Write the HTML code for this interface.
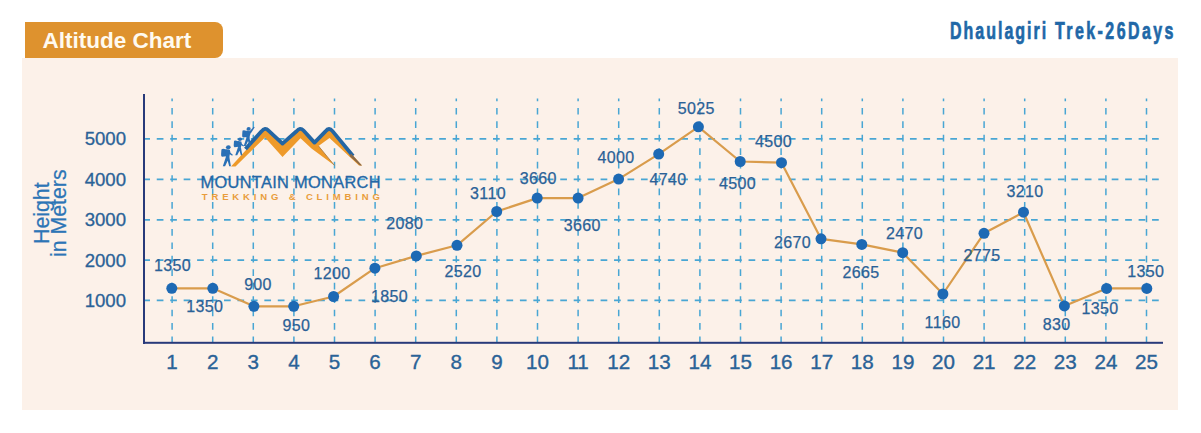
<!DOCTYPE html>
<html><head><meta charset="utf-8"><style>
html,body{margin:0;padding:0;background:#fff;}
body{width:1201px;height:433px;position:relative;overflow:hidden;font-family:"Liberation Sans",sans-serif;}
.panel{position:absolute;left:22px;top:58px;width:1156px;height:352px;background:#fcf1e9;}
.tab{position:absolute;left:25px;top:22px;width:198px;height:36px;background:#de922e;border-radius:0 8px 8px 0;}
.tab span{position:absolute;left:17.5px;top:8px;color:#fffaf0;font-weight:bold;font-size:22.5px;line-height:22px;white-space:nowrap;}
.title{position:absolute;left:950px;top:16px;transform:scaleX(0.68);letter-spacing:3.55px;-webkit-text-stroke:0.7px #2067a7;color:#2067a7;font-weight:bold;font-size:23.5px;line-height:30px;white-space:nowrap;transform-origin:0 0;}
svg{position:absolute;left:0;top:0;}
.dl{font-size:16px;letter-spacing:0.35px;fill:#2a6197;stroke:#2a6197;stroke-width:0.25px;font-family:"Liberation Sans",sans-serif;}
.xl{font-size:20.6px;fill:#2a6297;stroke:#2a6297;stroke-width:0.35px;font-family:"Liberation Sans",sans-serif;}
.yl{font-size:18.6px;fill:#2a6297;stroke:#2a6297;stroke-width:0.3px;font-family:"Liberation Sans",sans-serif;}
.yt{font-size:21.3px;fill:#2c75b6;stroke:#2c75b6;stroke-width:0.25px;font-family:"Liberation Sans",sans-serif;}
.mm{font-size:16.4px;letter-spacing:0.3px;fill:#2467a6;stroke:#2467a6;stroke-width:0.3px;font-family:"Liberation Sans",sans-serif;}
.tc{font-size:9.5px;fill:#e99d3c;font-weight:bold;letter-spacing:3.85px;font-family:"Liberation Sans",sans-serif;}
</style></head><body>
<div class="panel"></div>
<div class="tab"><span>Altitude Chart</span></div>
<div class="title" id="title"><span style="letter-spacing:2.95px">Dhaulagiri</span> Trek-26Days</div>
<svg width="1201" height="433" viewBox="0 0 1201 433">
<line x1="145" y1="300.4" x2="1160" y2="300.4" stroke="#48a6d4" stroke-width="1.7" stroke-dasharray="6.7 6.75" stroke-dashoffset="1.7"/>
<line x1="145" y1="260.1" x2="1160" y2="260.1" stroke="#48a6d4" stroke-width="1.7" stroke-dasharray="6.7 6.75" stroke-dashoffset="1.7"/>
<line x1="145" y1="219.8" x2="1160" y2="219.8" stroke="#48a6d4" stroke-width="1.7" stroke-dasharray="6.7 6.75" stroke-dashoffset="1.7"/>
<line x1="145" y1="179.4" x2="1160" y2="179.4" stroke="#48a6d4" stroke-width="1.7" stroke-dasharray="6.7 6.75" stroke-dashoffset="1.7"/>
<line x1="145" y1="138.9" x2="1160" y2="138.9" stroke="#48a6d4" stroke-width="1.7" stroke-dasharray="6.7 6.75" stroke-dashoffset="1.7"/>
<line x1="172.1" y1="98.5" x2="172.1" y2="342" stroke="#48a6d4" stroke-width="1.5" stroke-dasharray="6.7 6.75" stroke-dashoffset="4.05"/>
<line x1="212.7" y1="98.5" x2="212.7" y2="342" stroke="#48a6d4" stroke-width="1.5" stroke-dasharray="6.7 6.75" stroke-dashoffset="4.05"/>
<line x1="253.3" y1="98.5" x2="253.3" y2="342" stroke="#48a6d4" stroke-width="1.5" stroke-dasharray="6.7 6.75" stroke-dashoffset="4.05"/>
<line x1="293.9" y1="98.5" x2="293.9" y2="342" stroke="#48a6d4" stroke-width="1.5" stroke-dasharray="6.7 6.75" stroke-dashoffset="4.05"/>
<line x1="334.5" y1="98.5" x2="334.5" y2="342" stroke="#48a6d4" stroke-width="1.5" stroke-dasharray="6.7 6.75" stroke-dashoffset="4.05"/>
<line x1="375.1" y1="98.5" x2="375.1" y2="342" stroke="#48a6d4" stroke-width="1.5" stroke-dasharray="6.7 6.75" stroke-dashoffset="4.05"/>
<line x1="415.7" y1="98.5" x2="415.7" y2="342" stroke="#48a6d4" stroke-width="1.5" stroke-dasharray="6.7 6.75" stroke-dashoffset="4.05"/>
<line x1="456.3" y1="98.5" x2="456.3" y2="342" stroke="#48a6d4" stroke-width="1.5" stroke-dasharray="6.7 6.75" stroke-dashoffset="4.05"/>
<line x1="496.9" y1="98.5" x2="496.9" y2="342" stroke="#48a6d4" stroke-width="1.5" stroke-dasharray="6.7 6.75" stroke-dashoffset="4.05"/>
<line x1="537.5" y1="98.5" x2="537.5" y2="342" stroke="#48a6d4" stroke-width="1.5" stroke-dasharray="6.7 6.75" stroke-dashoffset="4.05"/>
<line x1="578.1" y1="98.5" x2="578.1" y2="342" stroke="#48a6d4" stroke-width="1.5" stroke-dasharray="6.7 6.75" stroke-dashoffset="4.05"/>
<line x1="618.7" y1="98.5" x2="618.7" y2="342" stroke="#48a6d4" stroke-width="1.5" stroke-dasharray="6.7 6.75" stroke-dashoffset="4.05"/>
<line x1="659.3" y1="98.5" x2="659.3" y2="342" stroke="#48a6d4" stroke-width="1.5" stroke-dasharray="6.7 6.75" stroke-dashoffset="4.05"/>
<line x1="699.9" y1="98.5" x2="699.9" y2="342" stroke="#48a6d4" stroke-width="1.5" stroke-dasharray="6.7 6.75" stroke-dashoffset="4.05"/>
<line x1="740.5" y1="98.5" x2="740.5" y2="342" stroke="#48a6d4" stroke-width="1.5" stroke-dasharray="6.7 6.75" stroke-dashoffset="4.05"/>
<line x1="781.1" y1="98.5" x2="781.1" y2="342" stroke="#48a6d4" stroke-width="1.5" stroke-dasharray="6.7 6.75" stroke-dashoffset="4.05"/>
<line x1="821.7" y1="98.5" x2="821.7" y2="342" stroke="#48a6d4" stroke-width="1.5" stroke-dasharray="6.7 6.75" stroke-dashoffset="4.05"/>
<line x1="862.3" y1="98.5" x2="862.3" y2="342" stroke="#48a6d4" stroke-width="1.5" stroke-dasharray="6.7 6.75" stroke-dashoffset="4.05"/>
<line x1="902.9" y1="98.5" x2="902.9" y2="342" stroke="#48a6d4" stroke-width="1.5" stroke-dasharray="6.7 6.75" stroke-dashoffset="4.05"/>
<line x1="943.5" y1="98.5" x2="943.5" y2="342" stroke="#48a6d4" stroke-width="1.5" stroke-dasharray="6.7 6.75" stroke-dashoffset="4.05"/>
<line x1="984.1" y1="98.5" x2="984.1" y2="342" stroke="#48a6d4" stroke-width="1.5" stroke-dasharray="6.7 6.75" stroke-dashoffset="4.05"/>
<line x1="1024.7" y1="98.5" x2="1024.7" y2="342" stroke="#48a6d4" stroke-width="1.5" stroke-dasharray="6.7 6.75" stroke-dashoffset="4.05"/>
<line x1="1065.3" y1="98.5" x2="1065.3" y2="342" stroke="#48a6d4" stroke-width="1.5" stroke-dasharray="6.7 6.75" stroke-dashoffset="4.05"/>
<line x1="1105.9" y1="98.5" x2="1105.9" y2="342" stroke="#48a6d4" stroke-width="1.5" stroke-dasharray="6.7 6.75" stroke-dashoffset="4.05"/>
<line x1="1146.5" y1="98.5" x2="1146.5" y2="342" stroke="#48a6d4" stroke-width="1.5" stroke-dasharray="6.7 6.75" stroke-dashoffset="4.05"/>
<rect x="143" y="94" width="2" height="250" fill="#283a7a"/>
<rect x="143" y="341.8" width="1020" height="2" fill="#283a7a"/>

<g id="logo">
  <path d="M231,166.5 L265,129 L282.5,143 L300,129 L314.5,142 L329,129 L362,165.5 L359,165.5 L329.5,138 L318.5,146 L334.5,165.5 L311.5,148.5 L300.5,138.3 L282.5,157 L265,137.5 L235.5,166.5 Z" fill="#ee9a2a"/>
  <path d="M318.5,146 L334.5,165.5" stroke="#a97a45" stroke-width="0.9" fill="none"/>
  <path d="M245.5,149 L261.5,131.3 Q265,126.8 268.5,130.6 L282.5,143.6 L296.5,131.3 Q300,126.8 303.5,130.5 L314.5,142.6 L325.5,131.3 Q329,126.8 332.5,131.1 L353,156" fill="none" stroke="#2466a4" stroke-width="3.8" stroke-linejoin="round"/>
  <path d="M351,153.5 L362,165.5 L360,165.5 L349.5,156 Z" fill="#8a6a4a"/>
  <g fill="#2a70b6">
    <g transform="translate(228.3,147.3) skewX(-4) scale(1.12,1)">
      <circle cx="0" cy="0" r="2.1"/>
      <path d="M-6,3 Q-6.5,1.5 -4.5,1.5 L-1.5,2.2 L-1,9 L-5,9.5 Q-6,9 -6,7 Z"/>
      <path d="M-2,2 L1.5,2.5 L2.3,5.5 L4.5,7.5 L4,8.5 L1.8,7 L1.5,10 L-1.5,10 Z"/>
      <path d="M-1.5,9.5 L1.5,9.5 L3.5,19 L2,19 L0.3,13.5 L-1.7,19 L-3.7,19 Z"/>
    </g>
    <g transform="translate(240,139.3) skewX(-4) scale(0.98,0.84)">
      <circle cx="0" cy="0" r="2.1"/>
      <path d="M-6,3 Q-6.5,1.5 -4.5,1.5 L-1.5,2.2 L-1,9 L-5,9.5 Q-6,9 -6,7 Z"/>
      <path d="M-2,2 L1.5,2.5 L2.3,5.5 L4.5,7.5 L4,8.5 L1.8,7 L1.5,10 L-1.5,10 Z"/>
      <path d="M-1.5,9.5 L1.5,9.5 L3.5,19 L2,19 L0.3,13.5 L-1.7,19 L-3.7,19 Z"/>
    </g>
    <g transform="translate(248.6,128.9) skewX(-4) scale(1.0,0.9)">
      <circle cx="0" cy="0" r="2.1"/>
      <path d="M-6,3 Q-6.5,1.5 -4.5,1.5 L-1.5,2.2 L-1,9 L-5,9.5 Q-6,9 -6,7 Z"/>
      <path d="M-2,2 L1.5,2.5 L2.3,5.5 L1.8,7 L1.5,10 L-1.5,10 Z"/>
      <path d="M0.5,3.5 L5,-2.5 L6,-1.8 L2.5,5 Z"/>
      <path d="M-1.5,9.5 L1.5,9.5 L3.5,19 L2,19 L0.3,13.5 L-1.7,19 L-3.7,19 Z"/>
    </g>
  </g>
  <text x="200.6" y="187.6" class="mm">MOUNTAIN MONARCH</text>
  <text x="201.8" y="199.8" class="tc">TREKKING &amp; CLIMBING</text>
</g>

<polyline points="171.8,288.3 212.8,288.3 253.9,306.3 293.7,306.3 333.6,296.5 374.9,268.2 416.3,255.9 457.0,245.3 496.7,211.5 537.2,198.1 578.1,198.1 618.6,179.1 658.7,154.1 698.4,126.8 740.2,161.5 781.5,162.7 821.0,238.8 861.8,244.4 902.7,252.7 942.9,294.0 984.0,233.3 1023.5,212.2 1064.4,305.9 1106.6,288.4 1146.8,288.4" fill="none" stroke="#d99c4c" stroke-width="2.2" stroke-linejoin="round"/>
<circle cx="171.8" cy="288.3" r="5.5" fill="#1d69b4"/>
<circle cx="212.8" cy="288.3" r="5.5" fill="#1d69b4"/>
<circle cx="253.9" cy="306.3" r="5.5" fill="#1d69b4"/>
<circle cx="293.7" cy="306.3" r="5.5" fill="#1d69b4"/>
<circle cx="333.6" cy="296.5" r="5.5" fill="#1d69b4"/>
<circle cx="374.9" cy="268.2" r="5.5" fill="#1d69b4"/>
<circle cx="416.3" cy="255.9" r="5.5" fill="#1d69b4"/>
<circle cx="457.0" cy="245.3" r="5.5" fill="#1d69b4"/>
<circle cx="496.7" cy="211.5" r="5.5" fill="#1d69b4"/>
<circle cx="537.2" cy="198.1" r="5.5" fill="#1d69b4"/>
<circle cx="578.1" cy="198.1" r="5.5" fill="#1d69b4"/>
<circle cx="618.6" cy="179.1" r="5.5" fill="#1d69b4"/>
<circle cx="658.7" cy="154.1" r="5.5" fill="#1d69b4"/>
<circle cx="698.4" cy="126.8" r="5.5" fill="#1d69b4"/>
<circle cx="740.2" cy="161.5" r="5.5" fill="#1d69b4"/>
<circle cx="781.5" cy="162.7" r="5.5" fill="#1d69b4"/>
<circle cx="821.0" cy="238.8" r="5.5" fill="#1d69b4"/>
<circle cx="861.8" cy="244.4" r="5.5" fill="#1d69b4"/>
<circle cx="902.7" cy="252.7" r="5.5" fill="#1d69b4"/>
<circle cx="942.9" cy="294.0" r="5.5" fill="#1d69b4"/>
<circle cx="984.0" cy="233.3" r="5.5" fill="#1d69b4"/>
<circle cx="1023.5" cy="212.2" r="5.5" fill="#1d69b4"/>
<circle cx="1064.4" cy="305.9" r="5.5" fill="#1d69b4"/>
<circle cx="1106.6" cy="288.4" r="5.5" fill="#1d69b4"/>
<circle cx="1146.8" cy="288.4" r="5.5" fill="#1d69b4"/>
<text x="172.4" y="270.8" text-anchor="middle" class="dl">1350</text>
<text x="204.7" y="311.8" text-anchor="middle" class="dl">1350</text>
<text x="258" y="289.5" text-anchor="middle" class="dl">900</text>
<text x="296.3" y="330.6" text-anchor="middle" class="dl">950</text>
<text x="332" y="278.8" text-anchor="middle" class="dl">1200</text>
<text x="389.5" y="301.5" text-anchor="middle" class="dl">1850</text>
<text x="404.7" y="229.4" text-anchor="middle" class="dl">2080</text>
<text x="463.1" y="277.2" text-anchor="middle" class="dl">2520</text>
<text x="488" y="199.4" text-anchor="middle" class="dl">3110</text>
<text x="538.2" y="184.20000000000002" text-anchor="middle" class="dl">3660</text>
<text x="582.3" y="231.0" text-anchor="middle" class="dl">3660</text>
<text x="615.9" y="162.70000000000002" text-anchor="middle" class="dl">4000</text>
<text x="668" y="185.3" text-anchor="middle" class="dl">4740</text>
<text x="696.2" y="113.5" text-anchor="middle" class="dl">5025</text>
<text x="737.4" y="188.9" text-anchor="middle" class="dl">4500</text>
<text x="773.6" y="146.9" text-anchor="middle" class="dl">4500</text>
<text x="792.5" y="248.3" text-anchor="middle" class="dl">2670</text>
<text x="861.1" y="277.6" text-anchor="middle" class="dl">2665</text>
<text x="904.4" y="239.10000000000002" text-anchor="middle" class="dl">2470</text>
<text x="942.5" y="327.5" text-anchor="middle" class="dl">1160</text>
<text x="981.9" y="260.6" text-anchor="middle" class="dl">2775</text>
<text x="1025.1" y="196.70000000000002" text-anchor="middle" class="dl">3210</text>
<text x="1056.7" y="330.2" text-anchor="middle" class="dl">830</text>
<text x="1100" y="313.6" text-anchor="middle" class="dl">1350</text>
<text x="1145.8" y="276.5" text-anchor="middle" class="dl">1350</text>
<text x="172.1" y="369.3" text-anchor="middle" class="xl">1</text>
<text x="212.7" y="369.3" text-anchor="middle" class="xl">2</text>
<text x="253.3" y="369.3" text-anchor="middle" class="xl">3</text>
<text x="293.9" y="369.3" text-anchor="middle" class="xl">4</text>
<text x="334.5" y="369.3" text-anchor="middle" class="xl">5</text>
<text x="375.1" y="369.3" text-anchor="middle" class="xl">6</text>
<text x="415.7" y="369.3" text-anchor="middle" class="xl">7</text>
<text x="456.3" y="369.3" text-anchor="middle" class="xl">8</text>
<text x="496.9" y="369.3" text-anchor="middle" class="xl">9</text>
<text x="537.5" y="369.3" text-anchor="middle" class="xl">10</text>
<text x="578.1" y="369.3" text-anchor="middle" class="xl">11</text>
<text x="618.7" y="369.3" text-anchor="middle" class="xl">12</text>
<text x="659.3" y="369.3" text-anchor="middle" class="xl">13</text>
<text x="699.9" y="369.3" text-anchor="middle" class="xl">14</text>
<text x="740.5" y="369.3" text-anchor="middle" class="xl">15</text>
<text x="781.1" y="369.3" text-anchor="middle" class="xl">16</text>
<text x="821.7" y="369.3" text-anchor="middle" class="xl">17</text>
<text x="862.3" y="369.3" text-anchor="middle" class="xl">18</text>
<text x="902.9" y="369.3" text-anchor="middle" class="xl">19</text>
<text x="943.5" y="369.3" text-anchor="middle" class="xl">20</text>
<text x="984.1" y="369.3" text-anchor="middle" class="xl">21</text>
<text x="1024.7" y="369.3" text-anchor="middle" class="xl">22</text>
<text x="1065.3" y="369.3" text-anchor="middle" class="xl">23</text>
<text x="1105.9" y="369.3" text-anchor="middle" class="xl">24</text>
<text x="1146.5" y="369.3" text-anchor="middle" class="xl">25</text>
<text x="126" y="306.79999999999995" text-anchor="end" class="yl">1000</text>
<text x="126" y="266.5" text-anchor="end" class="yl">2000</text>
<text x="126" y="226.20000000000002" text-anchor="end" class="yl">3000</text>
<text x="126" y="185.8" text-anchor="end" class="yl">4000</text>
<text x="126" y="145.3" text-anchor="end" class="yl">5000</text>
<text transform="translate(48.5,213.2) rotate(-90)" text-anchor="middle" class="yt">Height</text>
<text transform="translate(66,213.2) rotate(-90)" text-anchor="middle" class="yt">in Meters</text>
</svg>
</body></html>
